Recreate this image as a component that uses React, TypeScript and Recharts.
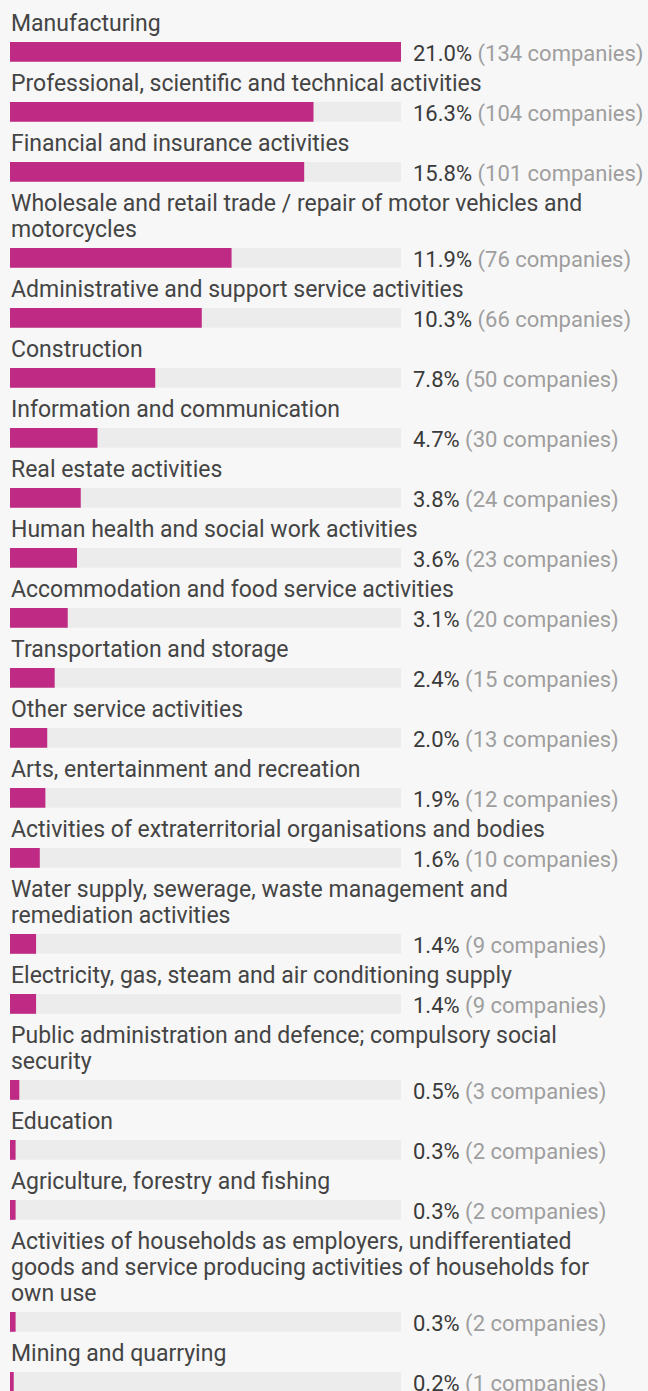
import React from "react";
import { BarChart, Bar, XAxis, YAxis } from "recharts";

const sectors = [
  "Manufacturing",
  "Professional, scientific and technical activities",
  "Financial and insurance activities",
  "Wholesale and retail trade / repair of motor vehicles and motorcycles",
  "Administrative and support service activities",
  "Construction",
  "Information and communication",
  "Real estate activities",
  "Human health and social work activities",
  "Accommodation and food service activities",
  "Transportation and storage",
  "Other service activities",
  "Arts, entertainment and recreation",
  "Activities of extraterritorial organisations and bodies",
  "Water supply, sewerage, waste management and remediation activities",
  "Electricity, gas, steam and air conditioning supply",
  "Public administration and defence; compulsory social security",
  "Education",
  "Agriculture, forestry and fishing",
  "Activities of households as employers, undifferentiated goods and service producing activities of households for own use",
  "Mining and quarrying",
];

const percents = [21.0, 16.3, 15.8, 11.9, 10.3, 7.8, 4.7, 3.8, 3.6, 3.1, 2.4, 2.0, 1.9, 1.6, 1.4, 1.4, 0.5, 0.3, 0.3, 0.3, 0.2];
const companies = [134, 104, 101, 76, 66, 50, 30, 24, 23, 20, 15, 13, 12, 10, 9, 9, 3, 2, 2, 2, 1];

const MAX = 21.0;
const FONT = "Roboto, 'Noto Sans', sans-serif";

function ValueTick(props: any) {
  const { x, y, pct, n } = props;
  return (
    <text x={x} y={y} dy={1} dominantBaseline="central" fontFamily={FONT} fontSize={22}>
      <tspan fill="#3a3a3a">{pct.toFixed(1)}%</tspan>
      <tspan fill="#9e9e9e"> ({n} companies)</tspan>
    </text>
  );
}

export default function App() {
  const rows = sectors.map((name, i) => ({ name, pct: percents[i], n: companies[i] }));
  return (
    <div style={{ width: 648, paddingTop: 11, paddingLeft: 10, fontFamily: FONT, background: "#f7f7f7", minHeight: 1391, boxSizing: "border-box" }}>
      <style>{"body{margin:0;background:#f7f7f7}"}</style>
      {rows.map((r) => (
        <div key={r.name} style={{ marginBottom: 4 }}>
          <div style={{ fontSize: 23, lineHeight: "26px", color: "#444", width: 600, paddingLeft: 1 }}>
            {r.name}
          </div>
          <BarChart width={638} height={30} layout="vertical" data={[r]} margin={{ top: 4, right: 0, bottom: 4, left: 0 }} barCategoryGap={0}>
            <XAxis type="number" domain={[0, MAX]} hide />
            <YAxis
              type="category"
              dataKey="name"
              orientation="right"
              width={247}
              axisLine={false}
              tickLine={false}
              tickSize={0}
              tickMargin={12}
              tick={(p: any) => <ValueTick {...p} pct={r.pct} n={r.n} />}
            />
            <Bar dataKey="pct" fill="#bf2a84" background={{ fill: "#ececec" }} barSize={22} isAnimationActive={false} />
          </BarChart>
        </div>
      ))}
    </div>
  );
}
